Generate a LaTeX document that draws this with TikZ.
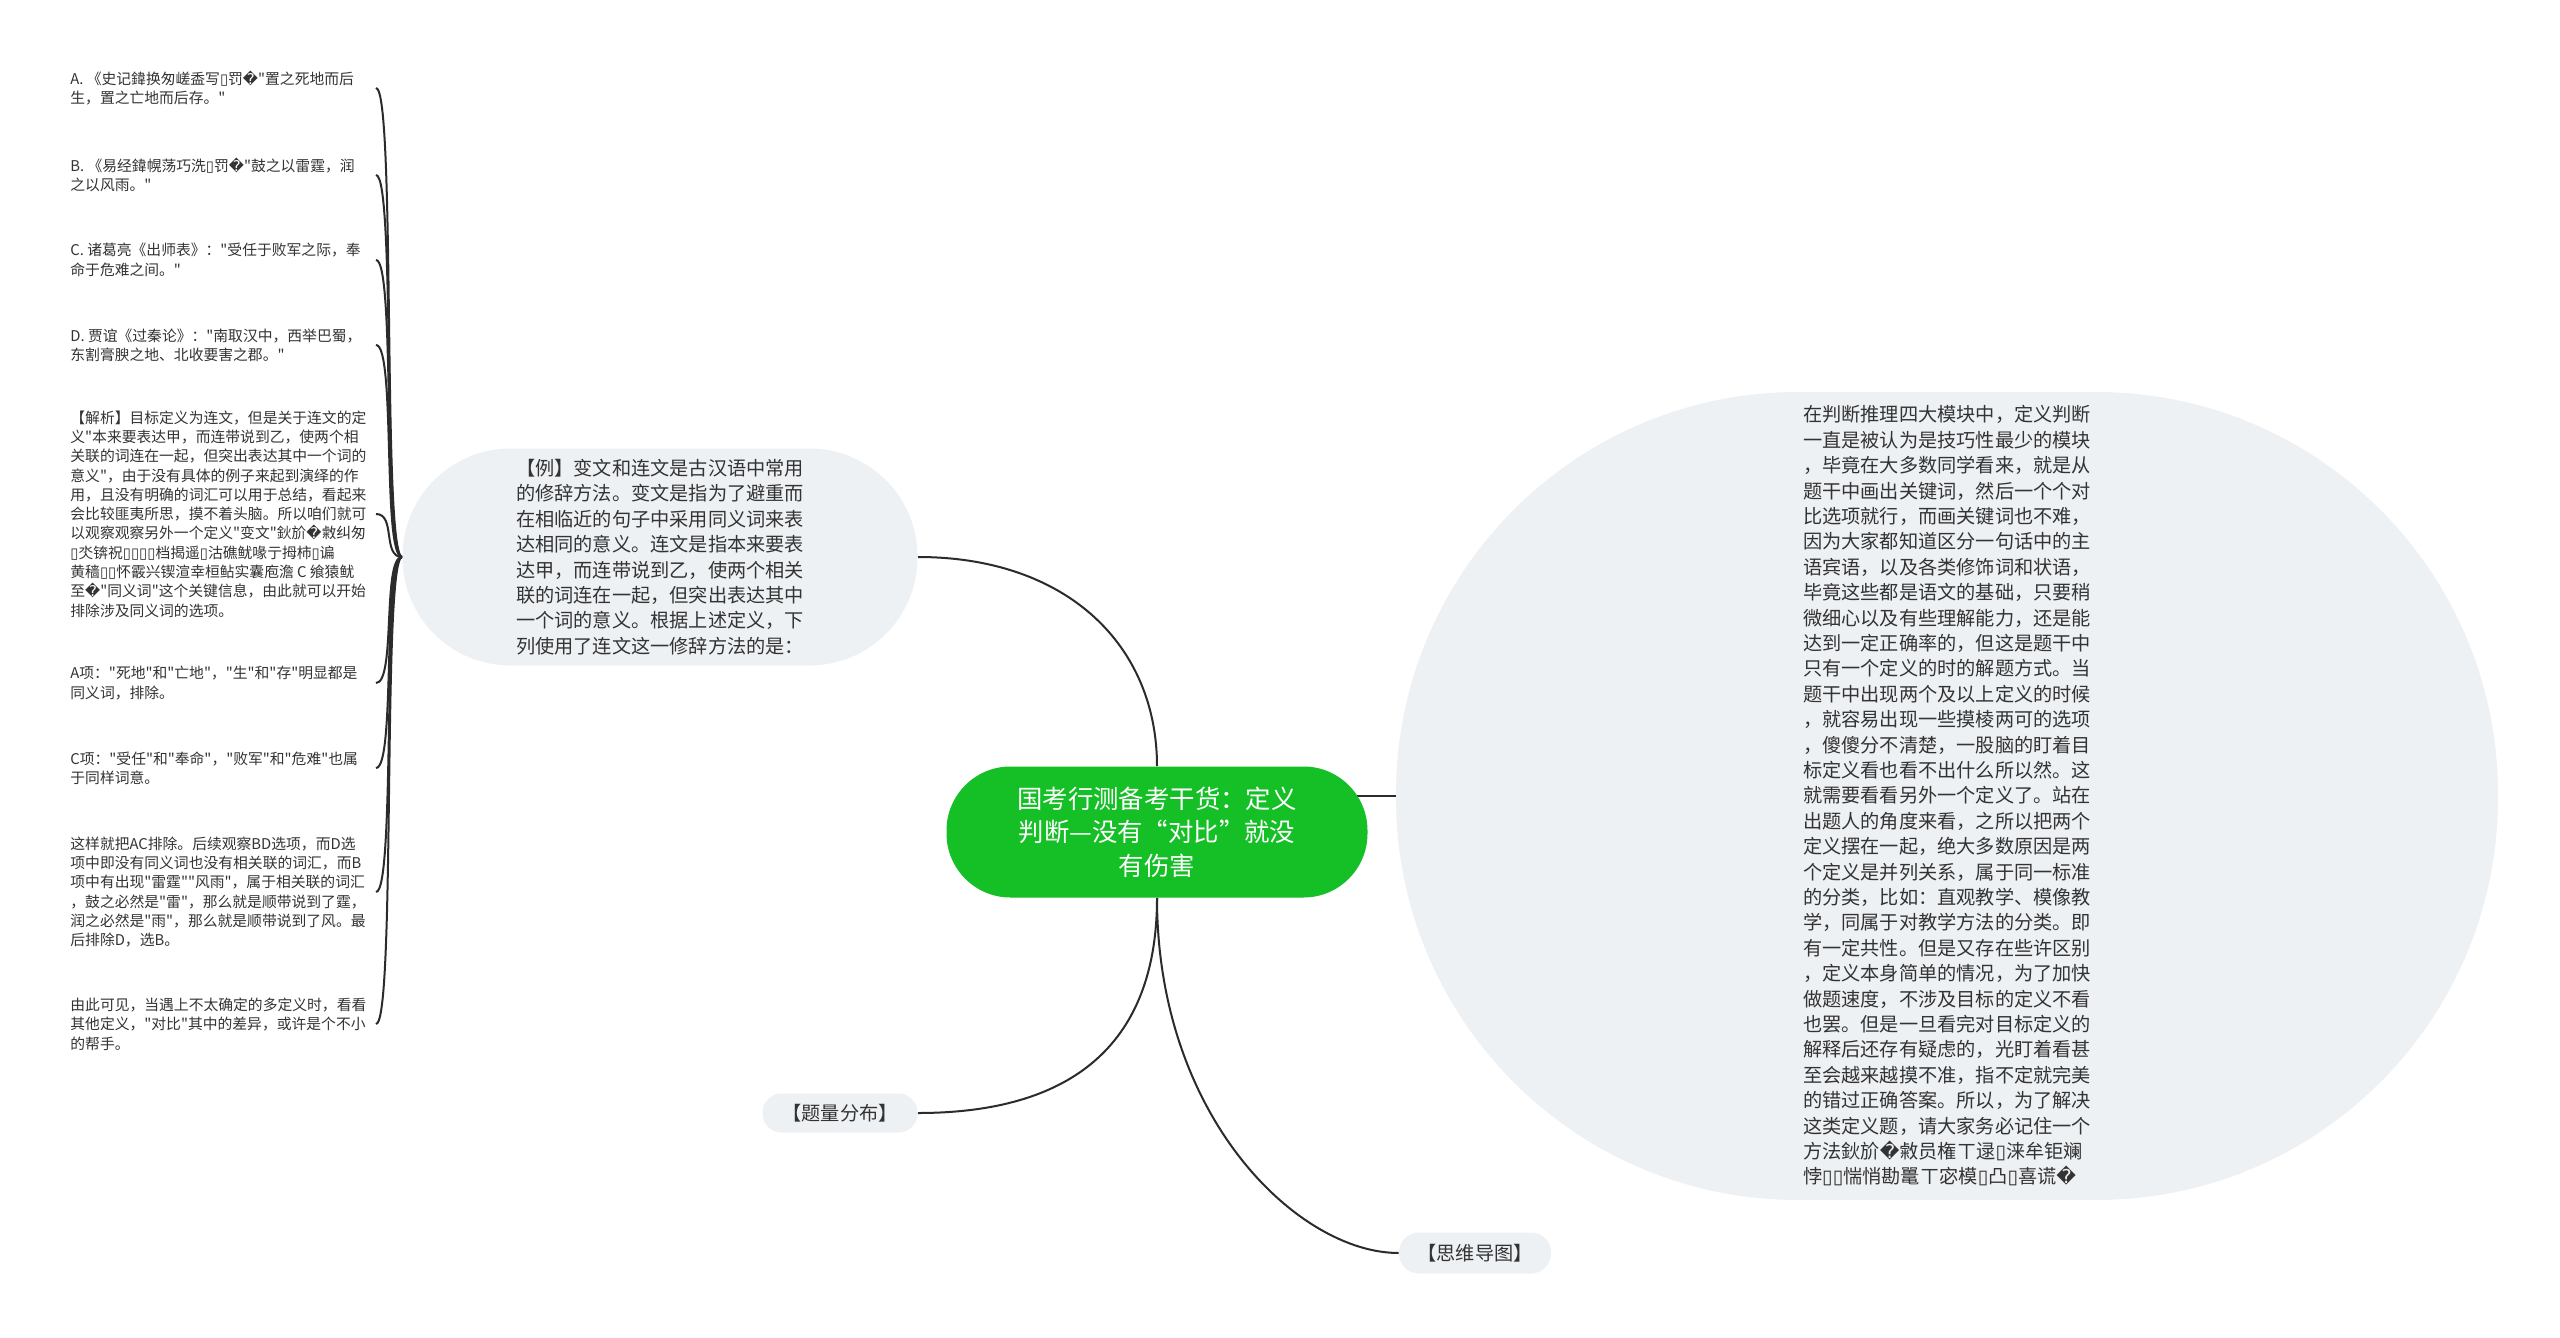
\documentclass[tikz,border=0pt]{standalone}
\usepackage{fontspec}
\newfontfamily\cjk{Noto Sans CJK SC}
\newfontfamily\repfont{DejaVu Sans}
\usetikzlibrary{backgrounds}
\definecolor{RootGreen}{HTML}{15BF26}
\definecolor{NodeGray}{HTML}{EEF1F4}
\definecolor{LinkDark}{HTML}{2B2B2B}
\definecolor{TextDark}{HTML}{333333}
\newcommand{\badch}{{\repfont\char"FFFD}}
\newcommand{\tofu}{{\repfont\char"25AF}}

\begin{document}
\begin{tikzpicture}[x=0.5pt,y=-0.5pt,
    every node/.style={inner sep=0pt,text=TextDark},
    leaf/.style={anchor=west,align=left,font=\cjk\fontsize{7.4pt}{9.65pt}\selectfont},
    topic/.style={fill=NodeGray,align=left,font=\cjk\fontsize{9.6pt}{12.7pt}\selectfont},
    link/.style={LinkDark,line width=1pt}]
  \useasboundingbox (0,0) rectangle (2560,1338);

  % centre and main branches
  \node[fill=RootGreen,text=white,align=center,font=\cjk\fontsize{12.7pt}{16.75pt}\selectfont,
        minimum width=210.5pt,minimum height=65.5pt,rounded corners=32pt] (root) at (1157,832)
    {国考行测备考干货：定义\\判断—没有“对比”就没\\有伤害};

  \node[topic,minimum width=257.5pt,minimum height=108.5pt,rounded corners=54pt] (ex) at (660,557)
    {【例】变文和连文是古汉语中常用\\的修辞方法。变文是指为了避重而\\在相临近的句子中采用同义词来表\\达相同的意义。连文是指本来要表\\达甲，而连带说到乙，使两个相关\\联的词连在一起，但突出表达其中\\一个词的意义。根据上述定义，下\\列使用了连文这一修辞方法的是：};

  \node[topic,minimum width=551pt,minimum height=404pt,rounded corners=201pt] (big) at (1947,796)
    {在判断推理四大模块中，定义判断\\一直是被认为是技巧性最少的模块\\，毕竟在大多数同学看来，就是从\\题干中画出关键词，然后一个个对\\比选项就行，而画关键词也不难，\\因为大家都知道区分一句话中的主\\语宾语，以及各类修饰词和状语，\\毕竟这些都是语文的基础，只要稍\\微细心以及有些理解能力，还是能\\达到一定正确率的，但这是题干中\\只有一个定义的时的解题方式。当\\题干中出现两个及以上定义的时候\\，就容易出现一些摸棱两可的选项\\，傻傻分不清楚，一股脑的盯着目\\标定义看也看不出什么所以然。这\\就需要看看另外一个定义了。站在\\出题人的角度来看，之所以把两个\\定义摆在一起，绝大多数原因是两\\个定义是并列关系，属于同一标准\\的分类，比如：直观教学、模像教\\学，同属于对教学方法的分类。即\\有一定共性。但是又存在些许区别\\，定义本身简单的情况，为了加快\\做题速度，不涉及目标的定义不看\\也罢。但是一旦看完对目标定义的\\解释后还存有疑虑的，光盯着看甚\\至会越来越摸不准，指不定就完美\\的错过正确答案。所以，为了解决\\这类定义题，请大家务必记住一个\\方法鈥斺\badch 敹员権ㄒ逯\tofu 涞牟钜斓\\悖\tofu\tofu 惴悄勘鼍ㄒ宓模\tofu 凸\tofu 喜谎\badch};

  \node[topic,align=center,minimum width=77.5pt,minimum height=19.5pt,rounded corners=9.5pt] (qd) at (840,1113) {【题量分布】};
  \node[topic,align=center,minimum width=76pt,minimum height=20.5pt,rounded corners=10pt] (mm) at (1475,1253) {【思维导图】};

  % children of the example
  \node[leaf] (la) at (70,88) {A. 《史记鍏换匆嵯盉写\tofu 罚\badch"置之死地而后\\生，置之亡地而后存。"};
  \node[leaf] (lb) at (70,175) {B. 《易经鍏幌荡巧洗\tofu 罚\badch"鼓之以雷霆，润\\之以风雨。"};
  \node[leaf] (lc) at (70,260) {C. 诸葛亮《出师表》："受任于败军之际，奉\\命于危难之间。"};
  \node[leaf] (ld) at (70,345) {D. 贾谊《过秦论》："南取汉中，西举巴蜀，\\东割膏腴之地、北收要害之郡。"};
  \node[leaf] (lj) at (70,514) {【解析】目标定义为连文，但是关于连文的定\\义"本来要表达甲，而连带说到乙，使两个相\\关联的词连在一起，但突出表达其中一个词的\\意义"，由于没有具体的例子来起到演绎的作\\用，且没有明确的词汇可以用于总结，看起来\\会比较匪夷所思，摸不着头脑。所以咱们就可\\以观察观察另外一个定义"变文"鈥斺\badch 敹纠匆\\\tofu 氼锛祝\tofu\tofu\tofu\tofu 档揭遥\tofu 沽礁鱿喙亍拇柿\tofu 谝\\黄穑\tofu\tofu 怀霰兴锲渲幸桓鲇实囊庖澹 C 飨猿鱿\\至\badch"同义词"这个关键信息，由此就可以开始\\排除涉及同义词的选项。};
  \node[leaf] (lx) at (70,683) {A项："死地"和"亡地"，"生"和"存"明显都是\\同义词，排除。};
  \node[leaf] (ly) at (70,768) {C项："受任"和"奉命"，"败军"和"危难"也属\\于同样词意。};
  \node[leaf] (lz) at (70,892) {这样就把AC排除。后续观察BD选项，而D选\\项中即没有同义词也没有相关联的词汇，而B\\项中有出现"雷霆""风雨"，属于相关联的词汇\\，鼓之必然是"雷"，那么就是顺带说到了霆，\\润之必然是"雨"，那么就是顺带说到了风。最\\后排除D，选B。};
  \node[leaf] (lw) at (70,1024) {由此可见，当遇上不太确定的多定义时，看看\\其他定义，"对比"其中的差异，或许是个不小\\的帮手。};
  \coordinate (brk) at (376,0);

  \begin{scope}[on background layer]
    \fill[white] (0,0) rectangle (2560,1338);
    \draw[link] (root.center |- big.west) -- (big.west);
    \draw[link] (ex.east) .. controls +(150,0) and +(0,-120) .. (root.north);
    \draw[link] (root.south) .. controls +(0,150) and +(150,0) .. (qd.east);
    \draw[link] (root.south) .. controls +(0,220) and +(-100,0) .. (mm.west);
    \foreach \c in {la,lb,lc,ld,lj,lx,ly,lz,lw}
      \draw[link] (ex.west) .. controls +(-20,0) and +(20,0) .. (\c.west -| brk);
  \end{scope}
\end{tikzpicture}
\end{document}
